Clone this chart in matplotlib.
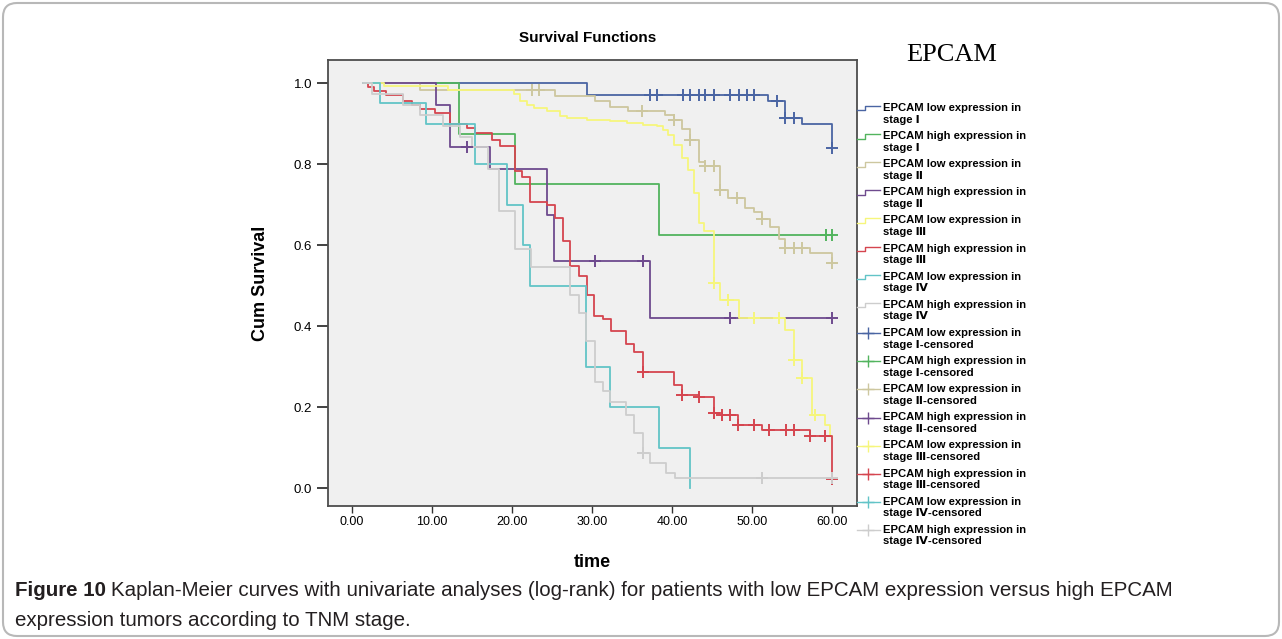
import numpy as np
import matplotlib.pyplot as plt
from matplotlib.lines import Line2D
from matplotlib.legend_handler import HandlerBase
from matplotlib.patches import FancyBboxPatch

plt.rcParams['font.family'] = ['Liberation Sans', 'DejaVu Sans']

# Kaplan-Meier step data (time, survival after step) and censor times
low1_t = [1.4, 29.3, 52.0, 54.1, 56.2, 60.0]
low1_s = [1.0, 0.970, 0.955, 0.914, 0.900, 0.840]
low1_c = [37.25, 38.1, 41.4, 42.25, 43.3, 44.1, 45.2, 47.25, 48.3, 49.3, 50.2,
          53.1, 54.1, 55.2, 60.0]

high1_t = [1.4, 13.3, 20.4, 38.3, 60.0]
high1_s = [1.0, 0.875, 0.750, 0.625, 0.625]
high1_c = [59.2, 60.0]

low2_t = [1.4, 8.5, 25.4, 30.4, 32.25, 34.5, 39.1, 40.2, 41.2, 42.25, 43.3, 44.1,
          46.0, 47.0, 49.1, 50.2, 51.2, 52.25, 53.3, 54.1, 57.25, 60.0]
low2_s = [1.0, 0.984, 0.967, 0.957, 0.941, 0.932, 0.922, 0.910, 0.887, 0.859, 0.805, 0.795,
          0.735, 0.717, 0.692, 0.683, 0.665, 0.646, 0.614, 0.593, 0.581, 0.556]
low2_c = [22.5, 23.3, 36.2, 40.2, 42.25, 44.1, 45.2, 46.0, 48.1, 51.2, 54.1, 55.2, 56.2, 60.0]

high2_t = [1.4, 10.5, 12.25, 17.25, 24.3, 25.2, 37.25, 60.0]
high2_s = [1.0, 0.947, 0.842, 0.789, 0.675, 0.562, 0.420, 0.420]
high2_c = [14.3, 30.3, 36.3, 47.2, 60.0]

low3_t = [1.4, 4.0, 12.0, 20.2, 21.0, 21.8, 22.7, 24.3, 26.0, 26.8, 29.3, 32.25, 34.3,
          36.4, 38.1, 38.9, 39.5, 40.2, 41.2, 42.0, 42.7, 43.3, 44.0, 45.2, 46.0, 48.3,
          54.1, 55.2, 56.2, 57.5, 59.1, 59.75, 60.0]
low3_s = [1.0, 0.992, 0.984, 0.972, 0.955, 0.947, 0.939, 0.930, 0.918, 0.914, 0.910, 0.906,
          0.902, 0.897, 0.893, 0.885, 0.873, 0.848, 0.815, 0.786, 0.729, 0.655, 0.635,
          0.507, 0.465, 0.420, 0.391, 0.317, 0.272, 0.181, 0.157, 0.128, 0.128]
low3_c = [45.2, 47.0, 50.2, 53.3, 55.2, 56.2, 57.9]

high3_t = [1.4, 2.0, 2.7, 4.3, 6.4, 7.5, 8.5, 10.4, 12.25, 14.3, 15.4, 17.5, 18.5, 20.4,
           21.2, 22.25, 24.3, 25.4, 26.4, 27.25, 28.3, 29.3, 30.25, 31.4, 32.4, 34.2,
           35.2, 36.3, 40.25, 41.2, 43.3, 45.2, 46.2, 48.2, 51.2, 57.2, 60.0]
high3_s = [1.0, 0.990, 0.980, 0.970, 0.955, 0.947, 0.935, 0.925, 0.900, 0.889, 0.877, 0.860,
           0.844, 0.784, 0.768, 0.706, 0.698, 0.667, 0.609, 0.548, 0.523, 0.478, 0.426,
           0.417, 0.388, 0.356, 0.336, 0.288, 0.255, 0.231, 0.224, 0.186, 0.180, 0.157,
           0.144, 0.128, 0.023]
high3_c = [36.3, 41.2, 43.3, 45.2, 46.2, 47.25, 48.2, 50.25, 52.1, 54.2, 55.25, 57.2, 59.1, 60.0]

low4_t = [1.4, 3.5, 9.3, 15.4, 19.3, 21.3, 22.25, 29.25, 32.25, 38.3, 42.25]
low4_s = [1.0, 0.95, 0.90, 0.80, 0.70, 0.60, 0.50, 0.30, 0.20, 0.10, 0.0]
low4_c = []

high4_t = [1.4, 2.5, 6.4, 8.5, 11.4, 13.5, 15.0, 17.0, 18.3, 20.4, 22.4, 27.25, 28.3,
           29.25, 30.4, 31.3, 32.25, 34.25, 35.25, 36.3, 37.25, 39.25, 40.4, 60.0]
high4_s = [1.0, 0.974, 0.947, 0.921, 0.895, 0.868, 0.842, 0.789, 0.684, 0.591, 0.546, 0.476,
           0.433, 0.363, 0.261, 0.239, 0.214, 0.181, 0.136, 0.088, 0.062, 0.037, 0.025, 0.025]
high4_c = [36.3, 51.2, 60.0]

stages = ['Ⅰ', 'Ⅰ', 'Ⅱ', 'Ⅱ', 'Ⅲ', 'Ⅲ', 'Ⅳ', 'Ⅳ']
levels = ['low', 'high'] * 4
colors = ['#4a65a3', '#52b45e', '#cdc79f', '#6e4a8e', '#f6f67c', '#d5454f', '#62c4c7', '#cdcdcd']

series = [(low1_t, low1_s, low1_c), (high1_t, high1_s, high1_c),
          (low2_t, low2_s, low2_c), (high2_t, high2_s, high2_c),
          (low3_t, low3_s, low3_c), (high3_t, high3_s, high3_c),
          (low4_t, low4_s, low4_c), (high4_t, high4_s, high4_c)]


def surv_at(times, surv, c):
    i = np.searchsorted(times, c, side='right') - 1
    return np.asarray(surv)[i]


class KMHandler(HandlerBase):
    # step shape for survival lines, line with "+" for censored
    def create_artists(self, legend, orig_handle, xdescent, ydescent, width,
                       height, fontsize, trans):
        x0 = -xdescent
        yc = height / 2 - ydescent + 0.5 * fontsize
        col = orig_handle.get_color()
        if orig_handle.get_marker() == '+':
            arts = [Line2D([x0, x0 + width], [yc, yc], color=col, lw=1),
                    Line2D([x0 + width * 0.5], [yc], color=col, marker='+', ms=9, mew=1)]
        else:
            xm = x0 + 0.35 * width
            lo, hi = yc - 0.2 * fontsize, yc + 0.2 * fontsize
            arts = [Line2D([x0, xm, xm, x0 + width], [lo, lo, hi, hi], color=col, lw=1)]
        for a in arts:
            a.set_transform(trans)
        return arts


fig = plt.figure(figsize=(12.82, 6.39), dpi=100)
ax = fig.add_axes([0.2559, 0.2081, 0.4126, 0.698])
ax.set_facecolor('#f0f0f0')

line_handles, cens_handles = [], []
for (t, s, c), col in zip(series, colors):
    ln, = ax.step(t, s, where='post', color=col, lw=1.3)
    line_handles.append(ln)
for (t, s, c), col in zip(series, colors):
    cy = [surv_at(t, s, x) for x in c]
    mk, = ax.plot(c, cy, linestyle='none', marker='+', ms=9, mew=1.4, color=col)
    cens_handles.append(mk)

ax.set_xlim(-3.0, 63.1)
ax.set_ylim(-0.044, 1.057)
ax.set_xticks(np.arange(0, 61, 10))
ax.set_xticklabels(['%.2f' % v for v in np.arange(0, 61, 10)], fontsize=9)
ax.set_yticks(np.arange(0, 1.01, 0.2))
ax.set_yticklabels(['%.1f' % v for v in np.arange(0, 1.01, 0.2)], fontsize=9.5)
ax.tick_params(axis='y', direction='out', length=8, width=1.3, color='#333333')
ax.tick_params(axis='x', direction='out', length=5, width=1.0, color='#333333', pad=2)
for sp in ax.spines.values():
    sp.set_color('#4d4d4d')
    sp.set_linewidth(1.3)

ax.set_xlabel('time', fontsize=13, fontweight='bold', labelpad=19)
ax.set_ylabel('Cum Survival', fontsize=13, fontweight='bold', labelpad=18)

labels = ['EPCAM %s expression in\nstage %s' % (l, s) for l, s in zip(levels, stages)]
labels += ['EPCAM %s expression in\nstage %s-censored' % (l, s) for l, s in zip(levels, stages)]
leg = fig.legend(line_handles + cens_handles, labels, loc='upper left',
                 bbox_to_anchor=(857 / 1282, 1 - 103 / 639), frameon=False,
                 handlelength=2.0, handletextpad=0.3, labelspacing=0.58,
                 borderpad=0, borderaxespad=0,
                 handler_map={Line2D: KMHandler()}, prop={'weight': 'bold', 'size': 8.1})
for tx in leg.get_texts():
    tx.set_linespacing(1.2)

fig.text(588 / 1282, 1 - 38 / 639, 'Survival Functions', ha='center', va='center',
         fontsize=11, fontweight='bold')
fig.text(952 / 1282, 1 - 55 / 639, 'EPCAM', ha='center', va='center',
         fontsize=19, family='Liberation Serif')

# caption
cap_size = 14.8
cap1 = fig.text(15 / 1282, 1 - 591 / 639, 'Figure 10', fontsize=cap_size, fontweight='bold',
                va='center', color='#231f20')
r = fig.canvas.get_renderer()
bb = cap1.get_window_extent(r)
fig.text((bb.x1 + 5) / 1282, 1 - 591 / 639,
         'Kaplan-Meier curves with univariate analyses (log-rank) for patients with low EPCAM '
         'expression versus high EPCAM', fontsize=cap_size, va='center', color='#231f20')
fig.text(15 / 1282, 1 - 621 / 639, 'expression tumors according to TNM stage.', fontsize=cap_size,
         va='center', color='#231f20')

frame = FancyBboxPatch((0.03, 0.03), 12.76, 6.33, boxstyle='round,pad=0,rounding_size=0.14',
                       transform=fig.dpi_scale_trans, fill=False, edgecolor='#b8b8b8', lw=1.5)
fig.patches.append(frame)

fig.savefig('out.png', dpi=100)
